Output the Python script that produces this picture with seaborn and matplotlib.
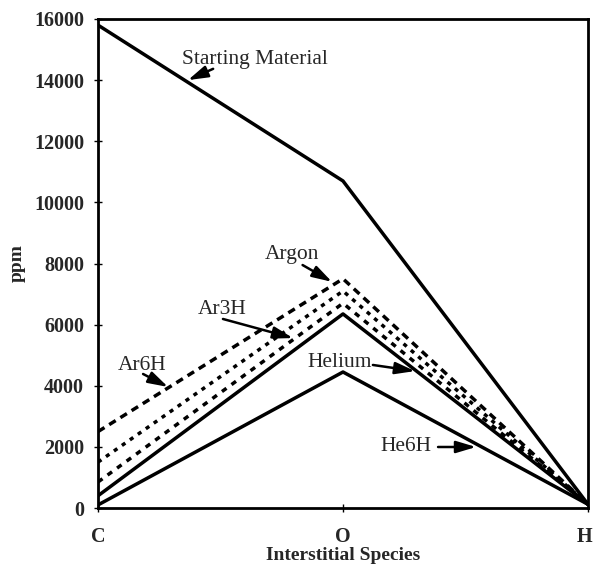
import matplotlib
matplotlib.use("Agg")
import matplotlib.pyplot as plt
import matplotlib.transforms as mtransforms
import seaborn as sns
import pandas as pd

species = ["C", "O", "H"]
starting_material = [15800, 10700, 120]
ar6h = [2500, 7500, 120]
argon = [1500, 7100, 120]
ar3h = [850, 6700, 120]
helium = [400, 6350, 120]
he6h = [100, 4450, 120]
y_ticks = [0, 2000, 4000, 6000, 8000, 10000, 12000, 14000, 16000]

series = {
    "Starting Material": starting_material,
    "Ar6H": ar6h,
    "Argon": argon,
    "Ar3H": ar3h,
    "Helium": helium,
    "He6H": he6h,
}
rows = []
for name, vals in series.items():
    for sp, v in zip(species, vals):
        rows.append({"Interstitial Species": sp, "ppm": v, "series": name})
df = pd.DataFrame(rows)

sns.set_theme(style="white")
plt.rcParams["font.family"] = ["Liberation Serif", "DejaVu Serif"]

fig = plt.figure(figsize=(5.94, 5.64), dpi=100)
ax = fig.add_axes([98 / 594, 56 / 564, 490 / 594, 489 / 564])

dashes = {
    "Starting Material": "",
    "Ar6H": (2.2, 1.6),
    "Argon": (1.2, 1.6),
    "Ar3H": (1.6, 1.8),
    "Helium": "",
    "He6H": "",
}
palette = {k: "black" for k in series}
sns.lineplot(data=df, x="Interstitial Species", y="ppm", hue="series",
             style="series", dashes=dashes, palette=palette, linewidth=2.5,
             sort=False, legend=False, ax=ax)

ax.set_xlim(0, 2)
ax.set_ylim(0, 16000)
ax.set_yticks(y_ticks)
ax.set_yticklabels([str(t) for t in y_ticks], fontsize=14.5, fontweight="bold")
ax.set_xticks(range(len(species)))
ax.set_xticklabels(species, fontsize=14.5, fontweight="bold")
ax.tick_params(axis="both", direction="inout", length=6, width=1, color="black",
               left=True, bottom=True, pad=7)
ax.tick_params(axis="x", pad=11)
last = ax.get_xticklabels()[-1]
last.set_horizontalalignment("right")
last.set_transform(last.get_transform() +
                   mtransforms.ScaledTranslation(4 / 100, 0, fig.dpi_scale_trans))
for s in ax.spines.values():
    s.set_visible(True)
    s.set_color("black")
    s.set_linewidth(2)
ax.set_xlabel("Interstitial Species", fontsize=14, fontweight="bold", labelpad=0)
ax.set_ylabel("ppm", fontsize=14, fontweight="bold", labelpad=6)

arrow_kw = dict(arrowstyle="-|>,head_length=1.0,head_width=0.3", color="black",
                lw=1.8, shrinkA=0, shrinkB=0)
labels = [
    ("Starting Material", (0.64, 14660), (0.47, 14370), (0.367, 14000)),
    ("Argon", (0.792, 8280), (0.835, 7950), (0.955, 7400)),
    ("Ar3H", (0.506, 6480), (0.51, 6185), (0.796, 5560)),
    ("Ar6H", (0.18, 4650), (0.184, 4385), (0.286, 3960)),
    ("Helium", (0.988, 4777), (1.122, 4680), (1.294, 4480)),
    ("He6H", (1.257, 1996), (1.388, 1996), (1.543, 1996)),
]
for text, tpos, tail, head in labels:
    ax.text(tpos[0], tpos[1], text, fontsize=15.5, ha="center", va="center")
    ax.annotate("", xy=head, xytext=tail, arrowprops=arrow_kw)

fig.savefig("out.png", dpi=100)
